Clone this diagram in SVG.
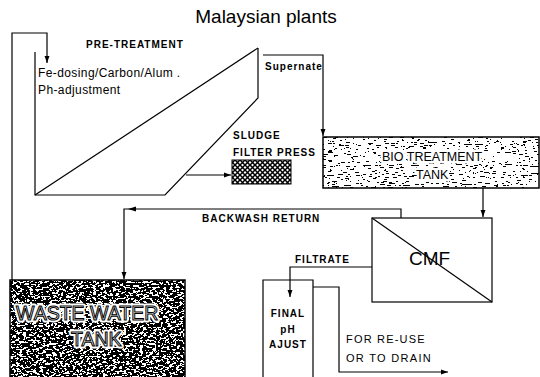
<svg xmlns="http://www.w3.org/2000/svg" width="540" height="377" viewBox="0 0 540 377">
<style>
.ln{fill:none;stroke:#000;stroke-width:1.2}
.t{font-family:"Liberation Sans",Arial,sans-serif;fill:#000}
.lb{font-family:"Liberation Sans",Arial,sans-serif;font-weight:bold;font-size:10px;letter-spacing:1px;fill:#000}
.halo{font-family:"Liberation Sans",Arial,sans-serif;fill:#fff;stroke:#fff;stroke-width:5;stroke-linejoin:round}
.big{font-family:"Liberation Sans",Arial,sans-serif;fill:#fff;stroke:#000;stroke-width:1}
</style>
<defs>
<marker id="ah" viewBox="0 0 10 10" refX="10" refY="5" markerWidth="7" markerHeight="7" orient="auto" markerUnits="userSpaceOnUse"><path d="M0,1.5 L10,5 L0,8.5 z" fill="#000"/></marker>
<pattern id="hatch" width="5" height="5" patternUnits="userSpaceOnUse"><rect width="5" height="5" fill="#fff"/><path d="M0,0 L5,5 M5,0 L0,5" stroke="#000" stroke-width="1.5"/></pattern>
<filter id="spk1" x="0" y="0" width="1" height="1" filterUnits="objectBoundingBox">
<feTurbulence type="fractalNoise" baseFrequency="0.18 0.9" numOctaves="3" seed="5"/>
<feColorMatrix type="matrix" values="0 0 0 0 0 0 0 0 0 0 0 0 0 0 0 1 0 0 0 0"/>
<feComponentTransfer><feFuncA type="discrete" tableValues="0 0 0 0 0 0 0 0 0 0 0 0 0 1 1 1 1 1 1 1"/></feComponentTransfer>
</filter>
<filter id="spk2" x="0" y="0" width="1" height="1" filterUnits="objectBoundingBox">
<feTurbulence type="fractalNoise" baseFrequency="0.3 0.55" numOctaves="3" seed="9"/>
<feColorMatrix type="matrix" values="0 0 0 0 0 0 0 0 0 0 0 0 0 0 0 1 0 0 0 0"/>
<feComponentTransfer><feFuncA type="discrete" tableValues="0 0 0 0 0 0 0 0 0 1 1 1 1 1 1 1 1 1 1 1"/></feComponentTransfer>
</filter>
</defs>
<rect width="540" height="377" fill="#fff"/>
<text class="t" x="266" y="23" font-size="19" text-anchor="middle">Malaysian plants</text>

<g id="pretreatment">
<path class="ln" d="M35,52 V195 H165 L258,98 V48"/>
<path class="ln" d="M35,195 L258,48"/>
<text class="lb" x="86" y="48" font-size="11" letter-spacing="1.5">PRE-TREATMENT</text>
<text class="t" x="38" y="77" font-size="12" letter-spacing="0.4">Fe-dosing/Carbon/Alum  .</text>
<text class="t" x="38" y="94" font-size="12" letter-spacing="0.4">Ph-adjustment</text>
</g>

<g id="sludge">
<text class="lb" x="233" y="139">SLUDGE</text>
<text class="lb" x="233" y="156">FILTER PRESS</text>
<rect x="232" y="160" width="59" height="24" fill="url(#hatch)" stroke="#000" stroke-width="1"/>
</g>

<g id="bio">
<rect x="323" y="137" width="216" height="51" fill="#fff"/>
<rect x="323" y="137" width="216" height="51" fill="#000" filter="url(#spk1)"/>
<rect x="323" y="137" width="216" height="51" fill="none" stroke="#000" stroke-width="1.5"/>
<text class="halo" x="382" y="161" font-size="12.5" stroke-width="3">BIO TREATMENT</text>
<text class="halo" x="416" y="179" font-size="12.5" stroke-width="3">TANK</text>
<text class="t" x="382" y="161" font-size="12.5">BIO TREATMENT</text>
<text class="t" x="416" y="179" font-size="12.5">TANK</text>
</g>

<g id="cmf">
<rect x="372" y="218" width="120" height="84" fill="#fff" stroke="#000" stroke-width="1.2"/>
<path class="ln" d="M372,218 L492,302"/>
<text class="t" x="409" y="265" font-size="19">CMF</text>
</g>

<g id="wastewater">
<rect x="10" y="280" width="175" height="100" fill="#fff"/>
<rect x="10" y="280" width="175" height="100" fill="#000" filter="url(#spk2)"/>
<rect x="10" y="280" width="175" height="100" fill="none" stroke="#000" stroke-width="1.5"/>
<text class="halo" x="16" y="320" font-size="19.5">WASTE WATER</text>
<text class="halo" x="71" y="346" font-size="19.5">TANK</text>
<text class="big" x="16" y="320" font-size="19.5">WASTE WATER</text>
<text class="big" x="71" y="346" font-size="19.5">TANK</text>
</g>

<g id="finalph">
<path class="ln" d="M263,380 V280 H313 V380" stroke-width="1"/>
<text class="lb" x="288" y="317" text-anchor="middle" letter-spacing="0.2">FINAL</text>
<text class="lb" x="288" y="333" text-anchor="middle" letter-spacing="0.2">pH</text>
<text class="lb" x="288" y="348" text-anchor="middle" letter-spacing="0.6">AJUST</text>
</g>

<g id="connectors">
<path class="ln" d="M12,280 V33 H47 V63" marker-end="url(#ah)"/>
<path class="ln" d="M263,55 H323 V136" marker-end="url(#ah)"/>
<path class="ln" d="M186,175 H231" marker-end="url(#ah)"/>
<path class="ln" d="M483,188 V217" marker-end="url(#ah)"/>
<path class="ln" d="M401,218 V209 H124 V279" marker-end="url(#ah)"/>
<path d="M128,209 L136,206.5 L136,211.5 z" fill="#000"/>
<path class="ln" d="M372,267 H290 V297" marker-end="url(#ah)"/>
<path class="ln" d="M313,287 H339 V372 H448" marker-end="url(#ah)"/>
<text class="lb" x="265" y="70" font-size="9" letter-spacing="1.3">Supernate</text>
<text class="lb" x="202" y="222">BACKWASH RETURN</text>
<text class="lb" x="295" y="263" font-size="10.5" letter-spacing="1.3">FILTRATE</text>
<text class="t" x="346" y="343" font-size="11" letter-spacing="1.2">FOR RE-USE</text>
<text class="t" x="346" y="362" font-size="11" letter-spacing="1.3">OR TO DRAIN</text>
</g>
</svg>
